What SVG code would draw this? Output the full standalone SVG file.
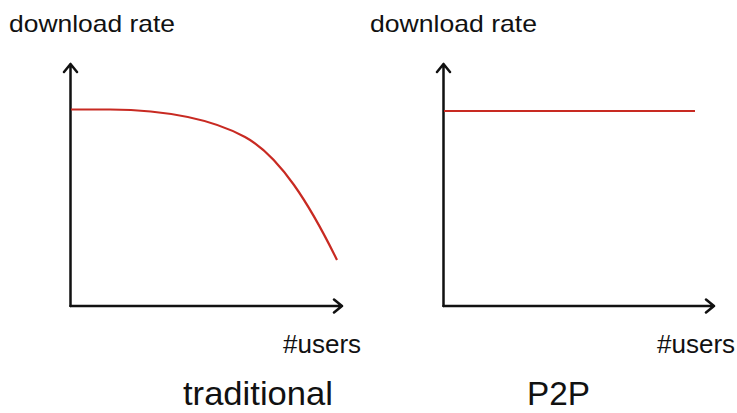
<svg xmlns="http://www.w3.org/2000/svg" width="737" height="413" viewBox="0 0 737 413">
<style>
.ax{stroke:#111;stroke-width:2.5;fill:none;stroke-linecap:round;stroke-linejoin:round}
.cv{stroke:#c82a22;stroke-width:2.2;fill:none}
.t{font-family:"Liberation Sans",Arial,sans-serif;fill:#111}
</style>
<rect width="737" height="413" fill="#fff"/>
<g id="chart-traditional">
<text class="t" x="9" y="32" font-size="24" textLength="166" lengthAdjust="spacingAndGlyphs">download rate</text>
<g class="connectors">
<path class="ax" d="M70.5,306 V64 M64,72 L70.5,64 L77,72"/>
<path class="ax" d="M70.5,306 H342 M334,299.5 L342,306 L334,312.5"/>
</g>
<path class="cv" d="M71,109.5 L110,109.5 C160,110 210,118 245,137 C280,156 310,205 337,260"/>
<text class="t" x="283" y="353" font-size="26">#users</text>
<text class="t" x="183" y="405" font-size="33" textLength="150" lengthAdjust="spacingAndGlyphs">traditional</text>
</g>
<g id="chart-p2p">
<text class="t" x="370" y="32" font-size="24" textLength="167" lengthAdjust="spacingAndGlyphs">download rate</text>
<g class="connectors">
<path class="ax" d="M443.5,306 V64 M437,72 L443.5,64 L450,72"/>
<path class="ax" d="M443.5,306 H714 M706,299.5 L714,306 L706,312.5"/>
</g>
<path class="cv" d="M444,111 H695"/>
<text class="t" x="657" y="353" font-size="26">#users</text>
<text class="t" x="527" y="405" font-size="33" textLength="63" lengthAdjust="spacingAndGlyphs">P2P</text>
</g>
</svg>
